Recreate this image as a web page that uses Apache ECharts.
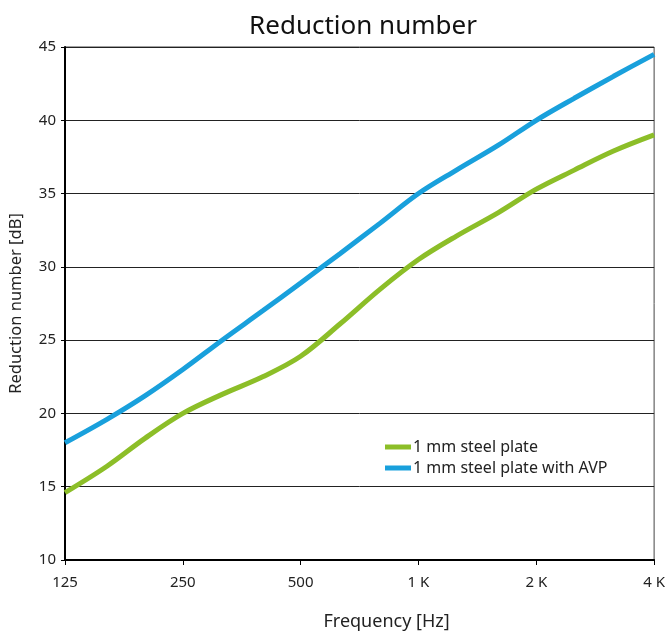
<!DOCTYPE html>
<html>
<head>
<meta charset="utf-8">
<script src="https://cdn.jsdelivr.net/npm/echarts@6/dist/echarts.min.js"></script>
<style>html,body{margin:0;padding:0;background:#fff;overflow:hidden}#c{width:668px;height:636px}</style>
</head>
<body>
<div id="c"></div>
<script>
const freqs = [125, 160, 200, 250, 315, 400, 500, 630, 800, 1000, 1250, 1600, 2000, 2500, 3150, 4000];
const steelPlate = [14.6, 16.4, 18.3, 20.0, 21.3, 22.5, 23.9, 26.1, 28.5, 30.5, 32.1, 33.7, 35.3, 36.6, 37.9, 39.0];
const steelPlateAVP = [18.0, 19.6, 21.2, 23.0, 25.0, 27.0, 28.9, 30.9, 33.0, 35.0, 36.6, 38.3, 40.0, 41.5, 43.0, 44.5];
const xTickLabels = ["125", "250", "500", "1 K", "2 K", "4 K"];
const seriesNames = ["1 mm steel plate", "1 mm steel plate with AVP"];

const toOct = f => Math.log2(f / 125);
const mk = vals => freqs.map((f, i) => [toOct(f), vals[i]]);

const font = "Noto Sans";
const chart = echarts.init(document.getElementById('c'));
chart.setOption({
  animation: false,
  title: {
    text: "Reduction number",
    left: 358, top: 9, textAlign: 'center',
    textStyle: { fontFamily: font, fontSize: 26, fontWeight: 'normal', color: '#111' }
  },
  legend: {
    orient: 'vertical', left: 380, top: 434, itemGap: 5,
    itemWidth: 26, itemHeight: 5, icon: 'rect',
    textStyle: { fontFamily: font, fontSize: 16, color: '#222', padding: [0, 0, 0, -3] },
    data: seriesNames
  },
  grid: { left: 65, right: 11, top: 47, bottom: 69, show: true, borderColor: '#444', borderWidth: 1 },
  xAxis: {
    type: 'value', min: 0, max: 5, interval: 1,
    name: "Frequency [Hz]", nameLocation: 'middle', nameGap: 53,
    nameTextStyle: { fontFamily: font, fontSize: 18, color: '#222', padding: [0, 0, 0, 54] },
    axisLine: { lineStyle: { color: '#000', width: 2 } },
    axisTick: { show: true, length: 5, lineStyle: { color: '#000' } },
    axisLabel: { fontFamily: font, fontSize: 15, color: '#222', margin: 15,
      formatter: v => xTickLabels[Math.round(v)] },
    splitLine: { show: false }
  },
  yAxis: {
    type: 'value', min: 10, max: 45, interval: 5,
    name: "Reduction number [dB]", nameLocation: 'middle', nameGap: 40,
    nameTextStyle: { fontFamily: font, fontSize: 16.5, color: '#222' },
    axisLine: { show: true, lineStyle: { color: '#000', width: 2 } },
    axisTick: { show: true, length: 4, lineStyle: { color: '#000' } },
    axisLabel: { fontFamily: font, fontSize: 15, color: '#222', margin: 9 },
    splitLine: { show: true, lineStyle: { color: '#222', width: 1 } }
  },
  series: [
    { name: seriesNames[0], type: 'line', data: mk(steelPlate), smooth: 0.35, showSymbol: false,
      lineStyle: { width: 5, color: '#8CBE28' }, itemStyle: { color: '#8CBE28' } },
    { name: seriesNames[1], type: 'line', data: mk(steelPlateAVP), smooth: 0.35, showSymbol: false,
      lineStyle: { width: 5, color: '#19A0DC' }, itemStyle: { color: '#19A0DC' } }
  ]
});
</script>
</body>
</html>
